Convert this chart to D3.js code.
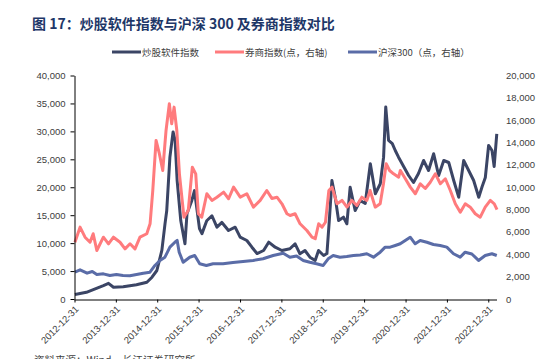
<!DOCTYPE html>
<html>
<head>
<meta charset="utf-8">
<script src="https://cdn.jsdelivr.net/npm/d3@7"></script>
<style>
body { margin: 0; background: #fff; }
svg text { font-family: "Liberation Sans", Arial, "Noto Sans CJK SC", sans-serif; }
</style>
</head>
<body>
<svg id="chart" width="541" height="359"></svg>
<script>
// ---- data ----
// 炒股软件指数 (left axis)
var softDates = ['2013-01-04','2013-04-15','2013-09-12','2013-10-27','2013-12-10','2014-03-06','2014-07-01','2014-10-01','2014-11-15','2014-12-28',
  '2015-02-10','2015-03-10','2015-03-25','2015-04-22','2015-05-20','2015-06-07','2015-06-25','2015-07-27','2015-09-02','2015-09-20','2015-11-01','2015-11-25',
  '2016-01-08','2016-01-30','2016-03-12','2016-04-27','2016-06-10','2016-07-24','2016-09-20','2016-11-18',
  '2017-01-01','2017-03-01','2017-04-15','2017-05-30','2017-07-27','2017-09-10','2017-11-06',
  '2018-01-04','2018-03-16','2018-05-01','2018-06-13','2018-07-27','2018-09-09','2018-10-25','2018-11-24',
  '2019-01-08','2019-02-06','2019-03-01','2019-03-22','2019-04-20','2019-05-20','2019-07-02','2019-08-01','2019-08-30','2019-10-13','2019-11-26',
  '2020-01-10','2020-02-24','2020-04-08','2020-05-22','2020-06-20','2020-07-09','2020-08-03','2020-09-05','2020-10-01','2020-10-30','2020-12-14',
  '2021-01-27','2021-03-11','2021-04-24','2021-06-08','2021-07-22','2021-09-05','2021-10-19','2021-12-03',
  '2022-01-16','2022-03-01','2022-04-14','2022-05-28','2022-07-11','2022-08-24','2022-10-08','2022-11-07','2022-12-05',
  '2023-01-03','2023-02-02','2023-02-21','2023-03-16'];
var softValues = [800,1200,2400,2800,2100,2200,2540,3000,3900,5100,
  8700,13500,15800,25400,29900,28400,21200,14000,9900,15300,17600,19400,
  12600,11700,14000,14900,12850,13700,12260,12850,
  11060,10470,9270,8140,8680,10170,9270,
  8680,8990,9880,8090,8680,7480,6890,8680,
  7790,8140,14640,21200,18220,14050,14640,13460,20010,15840,17630,
  17090,24200,18830,20620,25380,34370,28370,27800,26580,25380,23700,
  22100,20850,22460,24790,23000,25990,22100,24790,
  24430,21210,18220,24790,23000,21210,18220,20140,21750,
  27480,26580,23720,29570];

// 券商指数 (right axis)
var brokerDates = ['2013-01-04','2013-02-18','2013-04-03','2013-05-17','2013-06-14','2013-07-16','2013-09-12','2013-10-27','2013-12-10',
  '2014-02-06','2014-03-22','2014-05-05','2014-06-18','2014-08-01','2014-09-30','2014-10-29','2014-11-22','2014-12-21',
  '2015-01-19','2015-02-18','2015-03-19','2015-04-17','2015-05-08','2015-05-29','2015-06-22','2015-07-15','2015-08-24','2015-10-01','2015-11-06','2015-12-06','2015-12-29',
  '2016-01-28','2016-03-13','2016-04-27','2016-06-10','2016-08-08','2016-09-21','2016-11-04',
  '2017-01-02','2017-03-01','2017-04-28','2017-06-27','2017-08-24','2017-10-08','2017-11-22',
  '2018-01-05','2018-02-18','2018-03-18','2018-05-01','2018-06-14','2018-08-13','2018-09-27','2018-10-26','2018-11-25','2018-12-25',
  '2019-01-24','2019-02-23','2019-03-23','2019-05-06','2019-06-19','2019-08-02','2019-09-14','2019-10-28','2019-12-11',
  '2020-01-24','2020-02-22','2020-04-07','2020-05-21','2020-06-19','2020-07-13','2020-08-12','2020-09-16','2020-10-31','2020-11-15','2020-12-29',
  '2021-02-11','2021-03-27','2021-05-10','2021-06-23','2021-08-06','2021-09-20','2021-11-03','2021-12-17',
  '2022-01-30','2022-03-15','2022-04-28','2022-06-11','2022-07-25','2022-09-07','2022-10-21','2022-12-04',
  '2023-01-18','2023-02-22','2023-03-18'];
var brokerValues = [5080,6430,5530,5080,5840,4340,5530,4940,5530,
  5080,4490,4940,4490,5530,5840,6730,9710,14190,
  13000,11500,15080,17470,15680,17170,15080,11200,7320,7920,11800,11200,7630,
  7320,9420,8820,9110,9560,8970,10010,
  9110,9420,8220,8820,9710,9000,9110,
  8520,7630,7470,7630,6730,6130,5530,5390,6730,6430,
  6870,9710,10010,8520,8820,8220,8820,8370,9110,
  8820,9710,8220,8520,10310,12100,11500,11200,10900,11500,10760,
  10010,9420,10310,9890,10450,11200,10310,10760,
  9710,8520,7770,8520,8220,7630,7320,8220,
  8820,8520,8000];

// 沪深300 (right axis)
var hs300Dates = ['2013-01-04','2013-02-18','2013-04-21','2013-06-06','2013-07-16','2013-09-12','2013-11-08',
  '2014-01-05','2014-03-04','2014-05-04','2014-07-02','2014-08-30','2014-10-28','2014-12-11',
  '2015-01-24','2015-03-09','2015-04-22','2015-06-05','2015-06-25','2015-07-13','2015-08-17','2015-10-14','2015-11-27',
  '2016-01-10','2016-03-09','2016-05-07','2016-08-03','2016-10-30',
  '2017-01-27','2017-04-25','2017-07-22','2017-10-19',
  '2018-01-16','2018-03-16','2018-05-14','2018-07-12','2018-09-08','2018-11-06',
  '2019-01-04','2019-02-17','2019-04-02','2019-06-01','2019-07-31','2019-09-28','2019-11-26',
  '2020-01-24','2020-03-23','2020-05-21','2020-07-04','2020-08-17','2020-10-01','2020-11-14','2020-12-28',
  '2021-02-10','2021-03-26','2021-05-09','2021-07-07','2021-09-03','2021-11-01','2021-12-30',
  '2022-02-27','2022-04-27','2022-06-10','2022-08-08','2022-10-06','2022-12-04',
  '2023-02-01','2023-03-16'];
var hs300Values = [2400,2610,2310,2460,2190,2250,2100,
  2190,2100,2080,2190,2310,2400,3000,
  3450,3740,4640,5080,5240,4190,3290,3740,3890,
  3150,3000,3150,3150,3270,
  3360,3450,3600,3890,
  4100,3740,3850,3450,3290,3150,
  3000,3600,3890,3740,3800,3890,3940,
  4050,3740,4190,4640,4640,4790,4940,5240,
  5530,4940,5240,5080,4880,4790,4640,
  4050,3740,4190,4030,3450,3890,
  4050,3890];

var xTicks = ['2012-12-31','2013-12-31','2014-12-31','2015-12-31','2016-12-31','2017-12-31',
  '2018-12-31','2019-12-31','2020-12-31','2021-12-31','2022-12-31'];
var leftTicks = [0, 5000, 10000, 15000, 20000, 25000, 30000, 35000, 40000];
var rightTicks = [0, 2000, 4000, 6000, 8000, 10000, 12000, 14000, 16000, 18000, 20000];

var seriesNames = ['炒股软件指数', '券商指数(点，右轴)', '沪深300（点，右轴）'];
var seriesColors = ['#3b4565', '#ff7b7d', '#5a6ca7'];

// ---- layout ----
var parse = d3.timeParse('%Y-%m-%d');
var svg = d3.select('#chart');

var x = d3.scaleTime()
    .domain([parse('2012-12-31'), parse('2023-03-18')])
    .range([74.5, 497]);
var yL = d3.scaleLinear().domain([0, 40000]).range([299, 75.5]);
var yR = d3.scaleLinear().domain([0, 20000]).range([299, 75.5]);

function zip(dates, values) {
    return dates.map(function(d, i) { return {date: parse(d), value: values[i]}; });
}

var series = [
    {data: zip(softDates, softValues), y: yL},
    {data: zip(brokerDates, brokerValues), y: yR},
    {data: zip(hs300Dates, hs300Values), y: yR}
];

// title
svg.append('text')
    .attr('x', 32).attr('y', 29)
    .attr('fill', '#1e3768')
    .style('font-size', '14px')
    .style('font-weight', 'bold')
    .style('font-family', '"Noto Sans CJK SC", "Liberation Sans", sans-serif')
    .text('图 17：炒股软件指数与沪深 300 及券商指数对比');

// legend
var legendX = [112, 215, 348];
var legend = svg.append('g');
seriesNames.forEach(function(name, i) {
    legend.append('line')
        .attr('x1', legendX[i]).attr('x2', legendX[i] + 29)
        .attr('y1', 52).attr('y2', 52)
        .attr('stroke', seriesColors[i])
        .attr('stroke-width', 3);
    legend.append('text')
        .attr('x', legendX[i] + 30).attr('y', 55.5)
        .attr('fill', '#404040')
        .style('font-size', '9.5px')
        .style('font-family', '"Noto Sans CJK SC", sans-serif')
        .text(name);
});

// lines
series.forEach(function(s, i) {
    var line = d3.line()
        .x(function(d) { return x(d.date); })
        .y(function(d) { return s.y(d.value); });
    svg.append('path')
        .datum(s.data)
        .attr('d', line)
        .attr('fill', 'none')
        .attr('stroke', seriesColors[i])
        .attr('stroke-width', 3)
        .attr('stroke-linejoin', 'round');
});

// axes
var leftG = svg.append('g')
    .attr('transform', 'translate(74.5,0)')
    .call(d3.axisLeft(yL).tickValues(leftTicks).tickFormat(d3.format(','))
        .tickSize(4).tickSizeOuter(0).tickPadding(5));

var rightG = svg.append('g')
    .attr('transform', 'translate(497,0)')
    .call(d3.axisRight(yR).tickValues(rightTicks).tickFormat(d3.format(','))
        .tickSize(0).tickPadding(9));
rightG.select('.domain').remove();

var xG = svg.append('g')
    .attr('transform', 'translate(0,299.5)')
    .call(d3.axisBottom(x).tickValues(xTicks.map(parse)).tickFormat(d3.timeFormat('%Y-%m-%d'))
        .tickSize(3).tickSizeOuter(0));
xG.select('.domain').attr('d', 'M74.5,0.5H497');
xG.selectAll('.tick text')
    .attr('x', 0).attr('y', 0).attr('dy', '0.35em')
    .attr('text-anchor', 'end')
    .attr('transform', 'translate(2,8) rotate(-45)');

svg.selectAll('.domain, .tick line').attr('stroke', '#000');
svg.selectAll('.tick text')
    .attr('fill', '#404040')
    .style('font-size', '9.5px')
    .style('font-family', '"Liberation Sans", Arial, sans-serif');

// source note (cut off at the bottom edge)
svg.append('text')
    .attr('x', 34).attr('y', 364)
    .attr('fill', '#404040')
    .style('font-size', '10.5px')
    .style('font-family', '"Noto Sans CJK SC", sans-serif')
    .text('资料来源：Wind，长江证券研究所');
</script>
</body>
</html>
